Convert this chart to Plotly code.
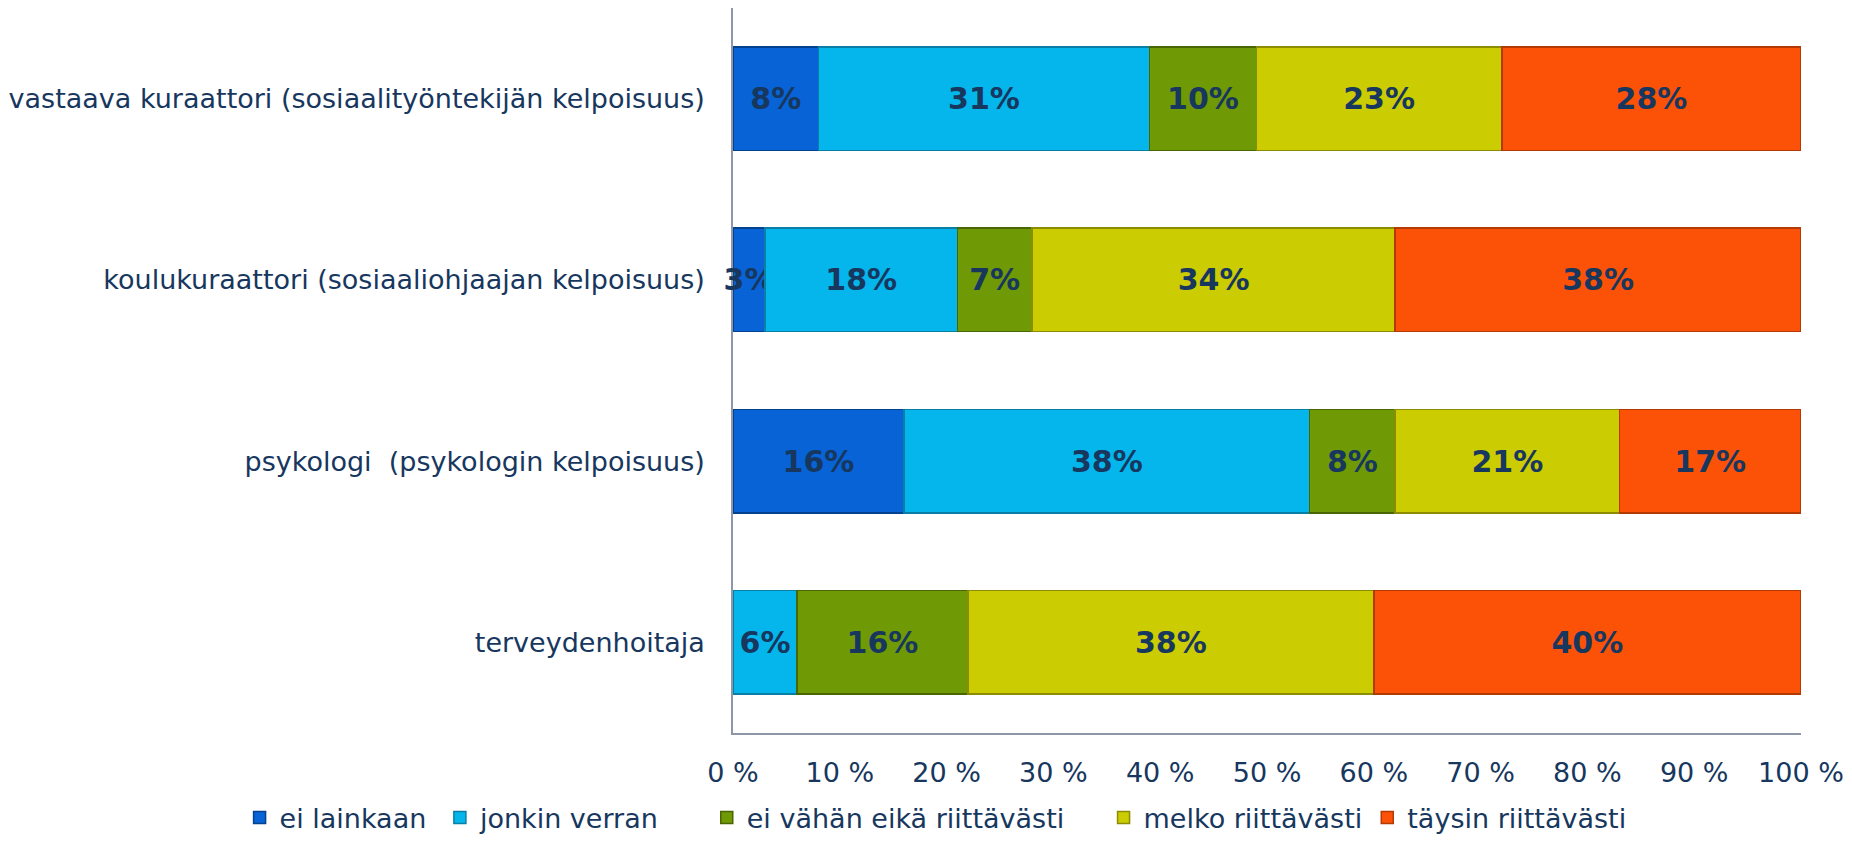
import plotly.graph_objects as go

categories = [
    "vastaava kuraattori (sosiaalityöntekijän kelpoisuus)",
    "koulukuraattori (sosiaaliohjaajan kelpoisuus)",
    "psykologi  (psykologin kelpoisuus)",
    "terveydenhoitaja",
]
series_names = ["ei lainkaan", "jonkin verran", "ei vähän eikä riittävästi",
                "melko riittävästi", "täysin riittävästi"]
ei_lainkaan = [8, 3, 16, 0]
jonkin_verran = [31, 18, 38, 6]
ei_vahan = [10, 7, 8, 16]
melko = [23, 34, 21, 38]
taysin = [28, 38, 17, 40]
tick_vals = [0, 10, 20, 30, 40, 50, 60, 70, 80, 90, 100]
tick_text = ["0 %", "10 %", "20 %", "30 %", "40 %", "50 %", "60 %", "70 %", "80 %", "90 %", "100 %"]

series_values = [ei_lainkaan, jonkin_verran, ei_vahan, melko, taysin]
colors = ["#0763D6", "#04B6EC", "#6F9A05", "#CCCC02", "#FC5207"]
line_colors = ["#044290", "#0A7FA6", "#4A6604", "#8C8C02", "#B33A05"]
legend_pad = [1, 5, 4, 0, 0]  # non-breaking spaces to mimic legend spacing

NAVY = "#17375E"
FONT = "Verdana, DejaVu Sans, sans-serif"

fig = go.Figure()
for name, vals, c, lc, pad in zip(series_names, series_values, colors, line_colors, legend_pad):
    fig.add_trace(go.Bar(
        y=categories,
        x=vals,
        name=name + "\u00a0" * pad,
        orientation="h",
        width=0.57,
        marker=dict(color=c, line=dict(color=lc, width=1.5)),
        text=[f"{v}%" if v > 0 else "" for v in vals],
        textposition="inside",
        insidetextanchor="middle",
        textangle=0,
        constraintext="none",
        cliponaxis=False,
        textfont=dict(family=FONT, size=30, color=NAVY, weight="bold"),
        hoverinfo="skip",
    ))

fig.update_layout(
    barmode="stack",
    width=1836,
    height=827,
    margin=dict(l=725, r=43, t=0, b=102, autoexpand=False),
    paper_bgcolor="white",
    plot_bgcolor="white",
    font=dict(family=FONT, color=NAVY),
    legend=dict(
        orientation="h",
        xref="paper", yref="paper",
        x=-0.462, xanchor="left",
        y=-0.117, yanchor="middle",
        font=dict(family=FONT, size=27, color=NAVY),
        itemwidth=30,
        traceorder="normal",
    ),
    showlegend=True,
)
fig.update_xaxes(
    range=[0, 100],
    tickvals=tick_vals,
    ticktext=tick_text,
    showgrid=False,
    zeroline=False,
    showline=True,
    linecolor="#8E96A8",
    linewidth=1.5,
    ticks="outside",
    ticklen=15,
    tickcolor="rgba(0,0,0,0)",
    tickfont=dict(family=FONT, size=27, color=NAVY),
    layer="below traces",
)
fig.update_yaxes(
    categoryorder="array",
    categoryarray=categories,
    autorange="reversed",
    showgrid=False,
    zeroline=False,
    showline=True,
    linecolor="#8E96A8",
    linewidth=1.5,
    ticks="outside",
    ticklen=21,
    tickcolor="rgba(0,0,0,0)",
    tickfont=dict(family=FONT, size=27, color=NAVY),
    layer="below traces",
)

fig.write_html("out.html")
